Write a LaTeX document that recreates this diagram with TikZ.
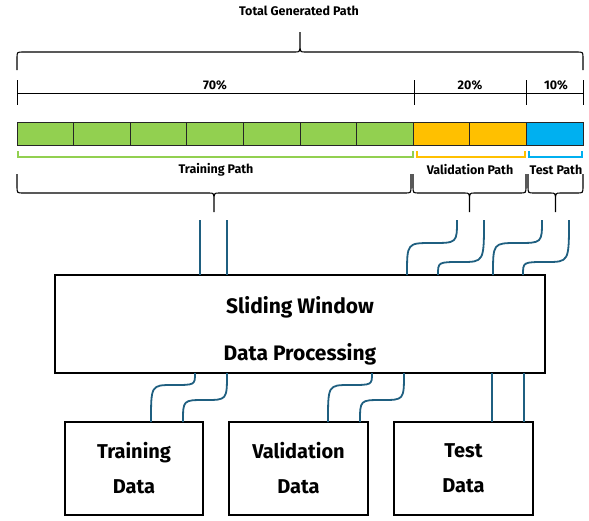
\documentclass[tikz,border=0pt]{standalone}
\usepackage{fontspec}
\setmainfont{Fira Sans}
\usetikzlibrary{calc}

\definecolor{trainGreen}{RGB}{146,208,80}
\definecolor{valOrange}{RGB}{255,192,0}
\definecolor{testBlue}{RGB}{0,176,240}
\definecolor{wireBlue}{RGB}{31,95,128}

\tikzset{
  brace line/.style = {line width=1.1pt, black},
  cell/.style = {draw=black!85, line width=0.9pt},
  wire/.style = {draw=wireBlue, line width=1.8pt},
  box/.style = {draw, line width=1.6pt, align=center, font=\bfseries\fontsize{20}{35}\selectfont},
  tag/.style = {font=\bfseries\fontsize{12.5}{14}\selectfont},
}

% left x, right x, end y, line y, tip y
\newcommand{\pathbrace}[5]{%
  \draw[brace line] (#1,#3) -- (#1,{#4+0.35*(#3-#4)}) .. controls (#1,#4) .. ({#1+6},#4)
    -- ({(#1+#2)/2-5},#4) .. controls ({(#1+#2)/2},#4) .. ({(#1+#2)/2},{#4+0.45*(#5-#4)})
    -- ({(#1+#2)/2},#5) -- ({(#1+#2)/2},{#4+0.45*(#5-#4)})
    .. controls ({(#1+#2)/2},#4) .. ({(#1+#2)/2+5},#4)
    -- ({#2-6},#4) .. controls (#2,#4) .. (#2,{#4+0.35*(#3-#4)}) -- (#2,#3);}

\begin{document}
\begin{tikzpicture}[x=1pt, y=-1pt]
\useasboundingbox (0,0) rectangle (589,520);

% total path
\node[tag] (total) at (299,11) {Total Generated Path};
\pathbrace{17}{583}{70}{52}{32}

% ruler
\draw[line width=0.9pt] (17,93) -- (583,93);
\foreach \x in {17,414,526,583}
  \draw[line width=0.9pt] (\x,80) -- (\x,105);
\node[tag] (p70) at (215,85) {70\%};
\node[tag] (p20) at (470,85) {20\%};
\node[tag] (p10) at (556,85) {10\%};

% path cells
\foreach \c [count=\i from 0] in {trainGreen,trainGreen,trainGreen,trainGreen,trainGreen,trainGreen,trainGreen,valOrange,valOrange,testBlue}
  \draw[cell, fill=\c] ({17+\i*56.6},122) rectangle ++(56.6,23);

% coloured brackets
\draw[trainGreen, line width=1.4pt] (18,151) -- (18,157) -- (413,157) -- (413,151);
\draw[valOrange, line width=1.4pt] (417,151) -- (417,157) -- (525,157) -- (525,151);
\draw[testBlue, line width=1.4pt] (529,151) -- (529,157) -- (582,157) -- (582,151);

\node[tag] (trainPath) at (216,170) {Training Path};
\node[tag] (valPath) at (470,170) {Validation Path};
\node[tag] (testPath) at (556,170) {Test Path};

\pathbrace{17}{411}{174}{193}{212}
\pathbrace{413}{526}{174}{193}{212}
\pathbrace{528}{583}{174}{193}{212}

% boxes
\node[box, minimum width=490pt, minimum height=98pt, font=\bfseries\fontsize{21}{47}\selectfont] (win) at (300,324) {\rule{0pt}{30pt}Sliding Window\\Data Processing};
\node[box, minimum width=138pt, minimum height=93pt] (trainData) at (134,468.5) {Training\\Data};
\node[box, minimum width=139pt, minimum height=93pt] (valData) at (298.5,468.5) {Validation\\Data};
\node[box, minimum width=139pt, minimum height=93pt] (testData) at (463.5,468.5) {Test\\Data};

% straight wires
\foreach \n/\x/\ya/\yb in {t1/200/220/275, t2/227/220/275, e1/492/373/422, e2/524/373/422} {
  \coordinate (\n-top) at (\x,\ya);
  \coordinate (\n-bot) at (\x,\yb);
  \draw[wire] (\n-top) -- (\n-bot);
}

% bent wires
\foreach \n/\xa/\ya/\xb/\yb/\ym in {v1/457/220/407/275/243, v2/484/220/438/275/262,
    s1/542/220/493/275/243, s2/569/220/523/275/262,
    r1/195/373/151/422/385, r2/227/373/183/422/400,
    u1/372/373/328/422/385, u2/404/373/360/422/400} {
  \coordinate (\n-top) at (\xa,\ya);
  \coordinate (\n-bot) at (\xb,\yb);
  \draw[wire] (\n-top) .. controls (\xa,\ym) .. ({(\xa+\xb)/2},\ym) .. controls (\xb,\ym) .. (\n-bot);
}

\end{tikzpicture}
\end{document}
